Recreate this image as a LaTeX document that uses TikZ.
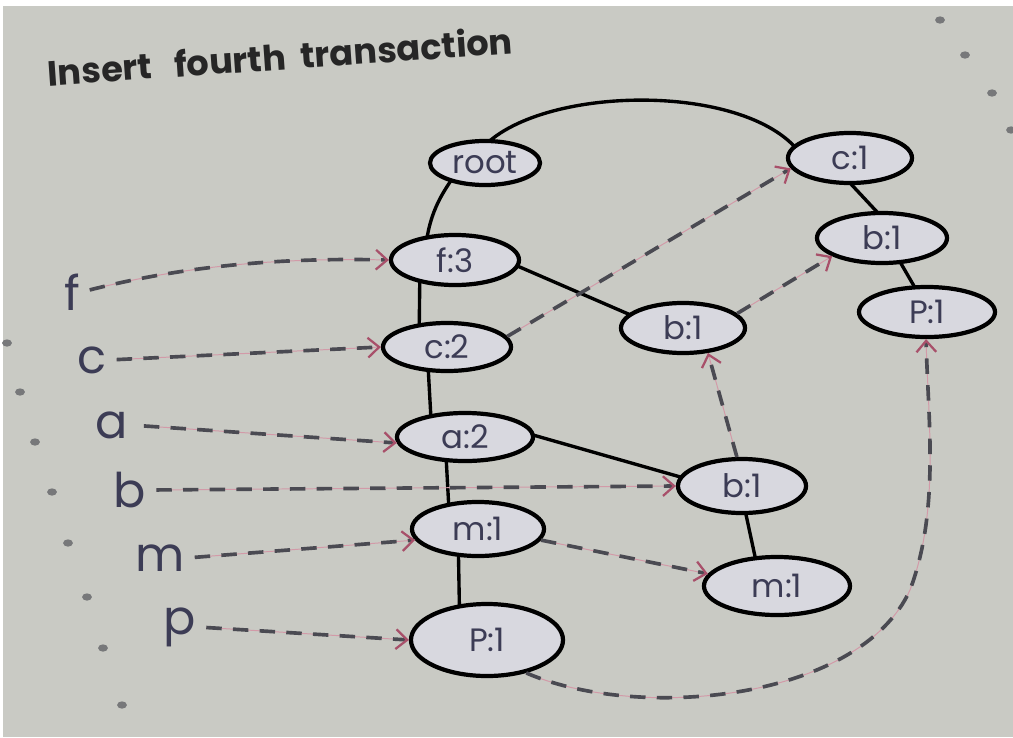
\documentclass[tikz,border=0pt]{standalone}
\usepackage{fontspec}
\setmainfont{Poppins}
\usetikzlibrary{shapes.geometric,arrows.meta,calc,backgrounds}
\definecolor{paper}{HTML}{C9CAC4}
\definecolor{ovalfill}{HTML}{D8D8DF}
\definecolor{inkc}{HTML}{3C3C55}
\definecolor{dashc}{HTML}{4A4A52}
\definecolor{arrowc}{HTML}{A8506A}
\definecolor{pinkline}{HTML}{D29AA8}
\definecolor{dotc}{HTML}{77787A}
\tikzset{
  oval/.style={ellipse, draw=black, line width=3pt, fill=ovalfill, inner sep=0pt,
    text=inkc, font=\fontsize{23}{23}\selectfont},
  treeedge/.style={draw=black, line width=2.4pt},
  dashlink/.style={draw=dashc, line width=2.6pt, dash pattern=on 11pt off 8pt,
    preaction={draw=pinkline, line width=0.7pt, solid, -},
    -{Straight Barb[length=8pt,width=14pt,line width=1.6pt,color=arrowc]}},
  hdr/.style={text=inkc, font=\fontsize{34}{34}\selectfont, inner sep=1pt},
  titletxt/.style={text=black!85, font=\bfseries\fontsize{25}{25}\selectfont, inner sep=0pt},
  perf/.style={fill=dotc}
}
\begin{document}
\begin{tikzpicture}[x=0.025cm,y=-0.025cm]
\useasboundingbox (0,0) rectangle (1013,737);
% nodes
\node[oval, minimum width=2.75cm, minimum height=1.1cm] (root) at (485,163) {root};
\node[oval, minimum width=3.1cm, minimum height=1.25cm] (c1) at (850,158) {c:1};
\node[oval, minimum width=3.2cm, minimum height=1.25cm] (f3) at (455,260) {f:3};
\node[oval, minimum width=3.25cm, minimum height=1.25cm] (b1r) at (882,238) {b:1};
\node[oval, minimum width=3.4cm, minimum height=1.25cm] (p1r) at (927,312) {P:1};
\node[oval, minimum width=3.2cm, minimum height=1.2cm] (c2) at (447,347) {c:2};
\node[oval, minimum width=3.1cm, minimum height=1.25cm] (b1m) at (683,328) {b:1};
\node[oval, minimum width=3.4cm, minimum height=1.2cm] (a2) at (465,437) {a:2};
\node[oval, minimum width=3.2cm, minimum height=1.35cm] (b1l) at (742,486) {b:1};
\node[oval, minimum width=3.3cm, minimum height=1.35cm] (m1l) at (478,529) {m:1};
\node[oval, minimum width=3.65cm, minimum height=1.45cm] (m1r) at (777,586) {m:1};
\node[oval, minimum width=3.8cm, minimum height=1.8cm] (p1l) at (487,640) {P:1};
% header table
\node[hdr] (hf) at (72,292) {f};
\node[hdr] (hc) at (92,360) {c};
\node[hdr] (ha) at (112,425) {a};
\node[hdr] (hb) at (130,490) {b};
\node[hdr] (hm) at (160,558) {m};
\node[hdr] (hp) at (180,627) {p};
% title
\node[titletxt, rotate=4] (title) at (280,56) {Insert\ \ \ fourth\ \ transaction};
% background layer: paper and tree edges
\begin{pgfonlayer}{background}
\fill[paper] (0,0) rectangle (1013,737);
\fill[white] (0,0) rectangle (1013,6);
\fill[white] (0,0) rectangle (3,737);
\foreach \px/\py in {7/343,20/392,35/442,52/492,68/543,87/597,103/648,122/705,940/20,965/55,992/93,1011/130}
  \fill[perf] (\px,\py) ellipse (3.5pt and 2.6pt);
\draw[treeedge] ($(root.center)+(-7,-10)$) .. controls (530,85) and (745,80) .. ($(c1.center)+(-50,-5)$);
\draw[treeedge] ($(root.center)+(-25,5)$) .. controls (440,195) and (428,215) .. ($(f3.center)+(-30,-5)$);
\draw[treeedge] ($(f3.center)+(-35,0)$) -- ($(c2.center)+(-28,0)$);
\draw[treeedge] ($(c2.center)+(-20,0)$) -- ($(a2.center)+(-33,0)$);
\draw[treeedge] ($(a2.center)+(-20,0)$) -- ($(m1l.center)+(-28,0)$);
\draw[treeedge] ($(m1l.center)+(-20,0)$) -- ($(p1l.center)+(-27,0)$);
\draw[treeedge] ($(f3.center)+(30,-8)$) -- ($(b1m.center)+(-20,1)$);
\draw[treeedge] ($(a2.center)+(40,-10)$) -- ($(b1l.center)+(-30,0)$);
\draw[treeedge] ($(c1.center)+(-14,10)$) -- ($(b1r.center)+(10,-10)$);
\draw[treeedge] ($(b1r.center)+(10,10)$) -- ($(p1r.center)+(-2,-7)$);
\draw[treeedge] ($(b1l.center)+(0,10)$) -- ($(m1r.center)+(-18,-11)$);
\end{pgfonlayer}
% node-links
\draw[dashlink] (c2.10) -- (c1.190);
\draw[dashlink] (b1m.15) -- (b1r.200);
\draw[dashlink] (b1l.100) -- (b1m.315);
\draw[dashlink] (m1l.350) -- (m1r.170);
\draw[dashlink] (p1l.320) .. controls (640,722) and (860,700) .. (910,590)
                 .. controls (940,510) and (928,420) .. (p1r.268);
% header links
\draw[dashlink, shorten <=6pt] (hf.east) .. controls (200,262) and (300,258) .. (f3.west);
\draw[dashlink, shorten <=6pt] (hc.east) -- (c2.west);
\draw[dashlink, shorten <=10pt] (ha.east) -- (a2.185);
\draw[dashlink, shorten <=6pt] (hb.east) -- (b1l.west);
\draw[dashlink, shorten <=6pt] (hm.east) -- (m1l.190);
\draw[dashlink, shorten <=6pt] (hp.east) -- (p1l.west);
\end{tikzpicture}
\end{document}
